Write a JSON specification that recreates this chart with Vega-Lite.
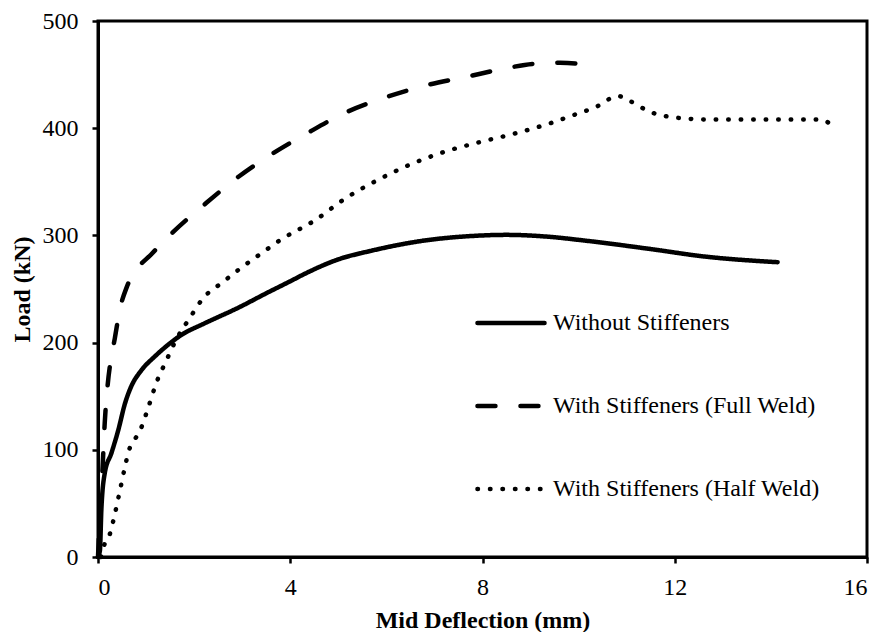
{
  "$schema": "https://vega.github.io/schema/vega-lite/v6.json",
  "width": 769,
  "height": 536,
  "autosize": {"type": "none"},
  "padding": {"left": 98, "top": 21, "right": 13, "bottom": 75},
  "background": "white",
  "config": {
    "view": {"stroke": "black", "strokeWidth": 3},
    "font": "Liberation Serif",
    "axis": {
      "grid": false,
      "domainColor": "black",
      "domainWidth": 3,
      "tickColor": "black",
      "tickWidth": 2.5,
      "tickSize": 6,
      "labelFont": "Liberation Serif",
      "labelFontSize": 24,
      "labelColor": "black",
      "titleFont": "Liberation Serif",
      "titleFontSize": 24,
      "titleFontWeight": "bold",
      "titleColor": "black"
    }
  },
  "data": {
    "values": [
      {"series": "Without Stiffeners", "x": 0, "y": 0},
      {"series": "Without Stiffeners", "x": 0.04, "y": 6},
      {"series": "Without Stiffeners", "x": 0.07, "y": 44},
      {"series": "Without Stiffeners", "x": 0.14, "y": 78},
      {"series": "Without Stiffeners", "x": 0.28, "y": 97},
      {"series": "Without Stiffeners", "x": 0.42, "y": 118},
      {"series": "Without Stiffeners", "x": 0.56, "y": 143},
      {"series": "Without Stiffeners", "x": 0.69, "y": 159},
      {"series": "Without Stiffeners", "x": 0.9, "y": 174},
      {"series": "Without Stiffeners", "x": 1.18, "y": 187},
      {"series": "Without Stiffeners", "x": 1.46, "y": 198},
      {"series": "Without Stiffeners", "x": 1.73, "y": 207},
      {"series": "Without Stiffeners", "x": 2.22, "y": 218},
      {"series": "Without Stiffeners", "x": 2.94, "y": 233},
      {"series": "Without Stiffeners", "x": 3.5, "y": 246},
      {"series": "Without Stiffeners", "x": 3.99, "y": 257},
      {"series": "Without Stiffeners", "x": 4.34, "y": 265},
      {"series": "Without Stiffeners", "x": 4.96, "y": 277},
      {"series": "Without Stiffeners", "x": 5.72, "y": 286},
      {"series": "Without Stiffeners", "x": 6.76, "y": 295},
      {"series": "Without Stiffeners", "x": 7.8, "y": 299.5},
      {"series": "Without Stiffeners", "x": 8.5, "y": 300.5},
      {"series": "Without Stiffeners", "x": 9.3, "y": 299},
      {"series": "Without Stiffeners", "x": 10.16, "y": 295},
      {"series": "Without Stiffeners", "x": 11.54, "y": 287},
      {"series": "Without Stiffeners", "x": 12.58, "y": 280.5},
      {"series": "Without Stiffeners", "x": 14.14, "y": 275},

      {"series": "With Stiffeners (Full Weld)", "x": 0, "y": 0},
      {"series": "With Stiffeners (Full Weld)", "x": 0.03, "y": 30},
      {"series": "With Stiffeners (Full Weld)", "x": 0.07, "y": 60},
      {"series": "With Stiffeners (Full Weld)", "x": 0.1, "y": 88},
      {"series": "With Stiffeners (Full Weld)", "x": 0.14, "y": 125},
      {"series": "With Stiffeners (Full Weld)", "x": 0.2, "y": 160},
      {"series": "With Stiffeners (Full Weld)", "x": 0.27, "y": 185},
      {"series": "With Stiffeners (Full Weld)", "x": 0.35, "y": 204},
      {"series": "With Stiffeners (Full Weld)", "x": 0.45, "y": 230},
      {"series": "With Stiffeners (Full Weld)", "x": 0.6, "y": 252},
      {"series": "With Stiffeners (Full Weld)", "x": 0.8, "y": 268},
      {"series": "With Stiffeners (Full Weld)", "x": 1.1, "y": 282},
      {"series": "With Stiffeners (Full Weld)", "x": 1.56, "y": 303},
      {"series": "With Stiffeners (Full Weld)", "x": 2.22, "y": 329},
      {"series": "With Stiffeners (Full Weld)", "x": 2.93, "y": 355},
      {"series": "With Stiffeners (Full Weld)", "x": 3.62, "y": 376},
      {"series": "With Stiffeners (Full Weld)", "x": 4.34, "y": 395},
      {"series": "With Stiffeners (Full Weld)", "x": 5.17, "y": 415},
      {"series": "With Stiffeners (Full Weld)", "x": 5.93, "y": 428},
      {"series": "With Stiffeners (Full Weld)", "x": 6.83, "y": 440},
      {"series": "With Stiffeners (Full Weld)", "x": 7.67, "y": 448},
      {"series": "With Stiffeners (Full Weld)", "x": 8.5, "y": 456},
      {"series": "With Stiffeners (Full Weld)", "x": 9.05, "y": 460},
      {"series": "With Stiffeners (Full Weld)", "x": 9.61, "y": 461},
      {"series": "With Stiffeners (Full Weld)", "x": 10.02, "y": 460},
      {"series": "With Stiffeners (Full Weld)", "x": 10.23, "y": 457},

      {"series": "With Stiffeners (Half Weld)", "x": 0.06, "y": 0},
      {"series": "With Stiffeners (Half Weld)", "x": 0.12, "y": 10},
      {"series": "With Stiffeners (Half Weld)", "x": 0.24, "y": 20.5},
      {"series": "With Stiffeners (Half Weld)", "x": 0.36, "y": 42},
      {"series": "With Stiffeners (Half Weld)", "x": 0.47, "y": 65},
      {"series": "With Stiffeners (Half Weld)", "x": 0.58, "y": 88},
      {"series": "With Stiffeners (Half Weld)", "x": 0.64, "y": 99},
      {"series": "With Stiffeners (Half Weld)", "x": 0.75, "y": 108.5},
      {"series": "With Stiffeners (Half Weld)", "x": 0.88, "y": 118.5},
      {"series": "With Stiffeners (Half Weld)", "x": 1.05, "y": 140},
      {"series": "With Stiffeners (Half Weld)", "x": 1.21, "y": 162},
      {"series": "With Stiffeners (Half Weld)", "x": 1.42, "y": 183},
      {"series": "With Stiffeners (Half Weld)", "x": 1.63, "y": 203},
      {"series": "With Stiffeners (Half Weld)", "x": 1.91, "y": 223},
      {"series": "With Stiffeners (Half Weld)", "x": 2.18, "y": 241},
      {"series": "With Stiffeners (Half Weld)", "x": 2.6, "y": 256.5},
      {"series": "With Stiffeners (Half Weld)", "x": 3.0, "y": 270.5},
      {"series": "With Stiffeners (Half Weld)", "x": 3.42, "y": 284},
      {"series": "With Stiffeners (Half Weld)", "x": 3.84, "y": 297},
      {"series": "With Stiffeners (Half Weld)", "x": 4.51, "y": 314},
      {"series": "With Stiffeners (Half Weld)", "x": 5.13, "y": 334},
      {"series": "With Stiffeners (Half Weld)", "x": 5.79, "y": 351},
      {"series": "With Stiffeners (Half Weld)", "x": 6.49, "y": 366},
      {"series": "With Stiffeners (Half Weld)", "x": 7.21, "y": 378},
      {"series": "With Stiffeners (Half Weld)", "x": 7.94, "y": 387},
      {"series": "With Stiffeners (Half Weld)", "x": 8.67, "y": 395},
      {"series": "With Stiffeners (Half Weld)", "x": 9.4, "y": 404.5},
      {"series": "With Stiffeners (Half Weld)", "x": 9.88, "y": 412},
      {"series": "With Stiffeners (Half Weld)", "x": 10.37, "y": 420},
      {"series": "With Stiffeners (Half Weld)", "x": 10.82, "y": 430},
      {"series": "With Stiffeners (Half Weld)", "x": 11.06, "y": 425.5},
      {"series": "With Stiffeners (Half Weld)", "x": 11.5, "y": 415},
      {"series": "With Stiffeners (Half Weld)", "x": 12.0, "y": 410},
      {"series": "With Stiffeners (Half Weld)", "x": 12.76, "y": 408},
      {"series": "With Stiffeners (Half Weld)", "x": 13.77, "y": 408},
      {"series": "With Stiffeners (Half Weld)", "x": 15.05, "y": 408},
      {"series": "With Stiffeners (Half Weld)", "x": 15.27, "y": 402.5}
    ]
  },
  "mark": {"type": "line", "interpolate": "monotone", "color": "black", "strokeWidth": 4.5, "strokeCap": "round", "strokeJoin": "round"},
  "encoding": {
    "x": {
      "field": "x",
      "type": "quantitative",
      "scale": {"domain": [0, 16], "nice": false},
      "axis": {"values": [0, 4, 8, 12, 16], "title": "Mid Deflection (mm)", "labelPadding": 12, "titlePadding": 9}
    },
    "y": {
      "field": "y",
      "type": "quantitative",
      "scale": {"domain": [0, 500], "nice": false},
      "axis": {"values": [0, 100, 200, 300, 400, 500], "title": "Load (kN)", "labelPadding": 14, "titlePadding": 8}
    },
    "strokeDash": {
      "field": "series",
      "type": "nominal",
      "scale": {
        "domain": ["Without Stiffeners", "With Stiffeners (Full Weld)", "With Stiffeners (Half Weld)"],
        "range": [[1, 0], [18, 25], [0.5, 12]]
      },
      "legend": {
        "title": null,
        "orient": "none",
        "legendX": 377,
        "legendY": 266,
        "padding": 0,
        "symbolType": "stroke",
        "symbolSize": 4500,
        "symbolStrokeWidth": 4.5,
        "symbolStrokeColor": "black",
        "labelFont": "Liberation Serif",
        "labelFontSize": 24,
        "labelColor": "black",
        "labelOffset": 6,
        "labelLimit": 400,
        "rowPadding": 35,
        "encode": {"symbols": {"update": {"strokeCap": {"value": "round"}}}}
      }
    }
  }
}
